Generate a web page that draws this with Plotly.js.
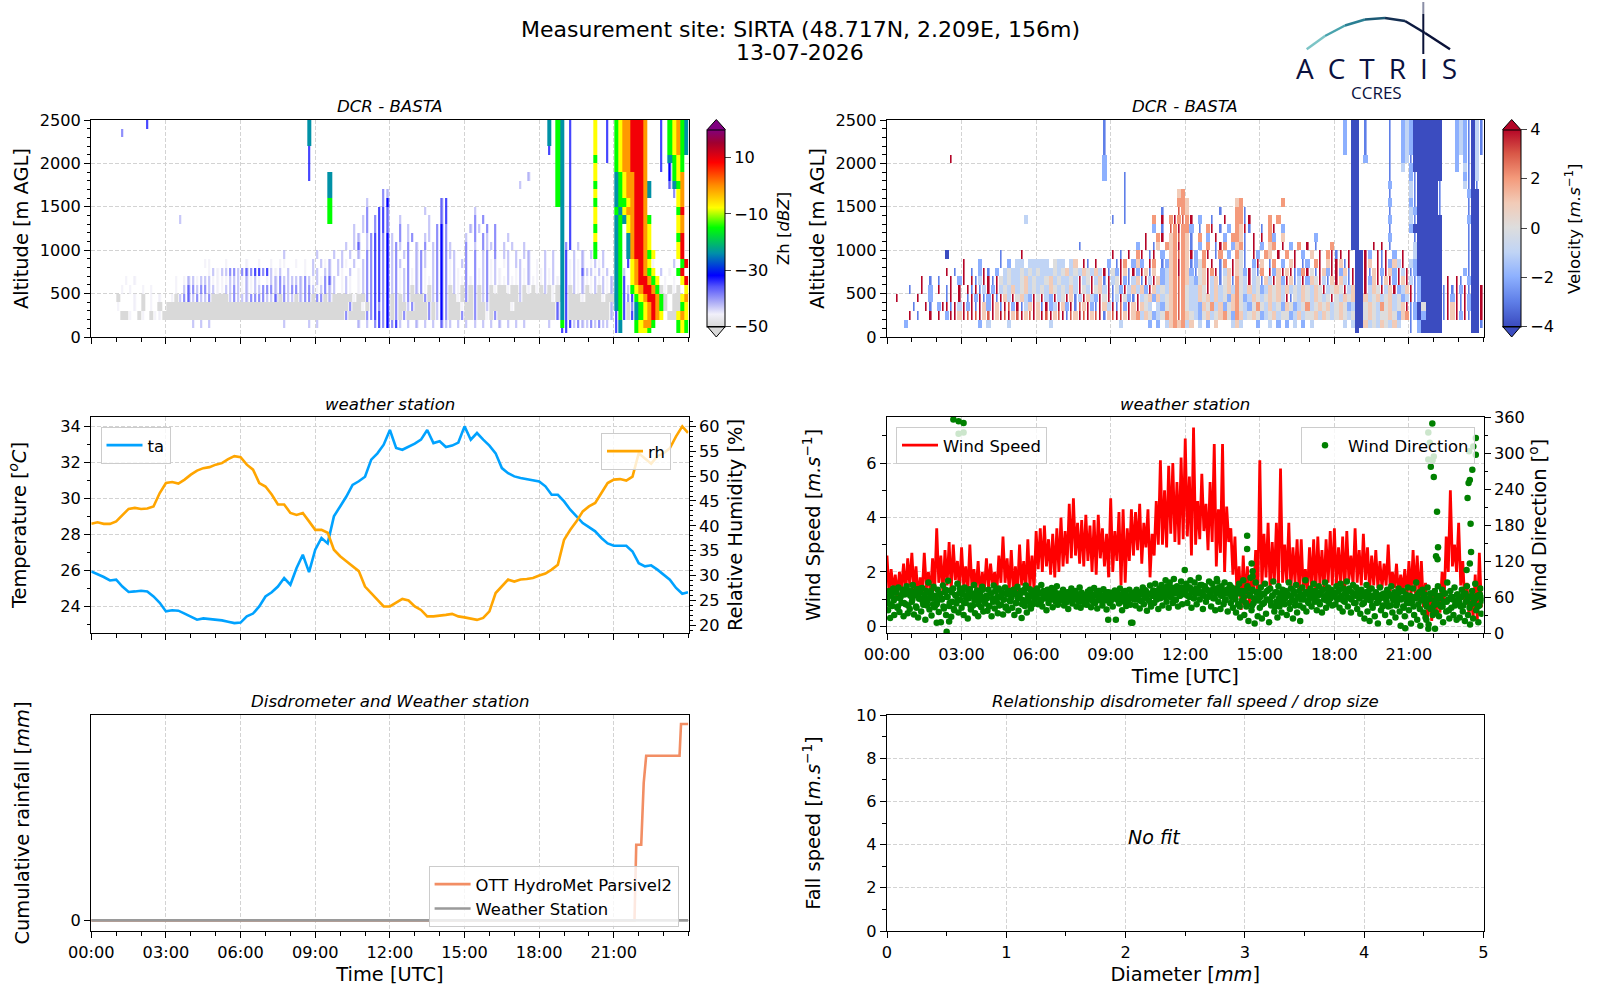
<!DOCTYPE html>
<html>
<head>
<meta charset="utf-8">
<script src="https://cdn.plot.ly/plotly-3.0.1.min.js"></script>
<style>body{margin:0;background:#fff}</style>
</head>
<body>
<div id="chart" style="width:1600px;height:1000px"></div>
<script>
// hours of the day, one tick every 3h
var timeTicks = [0,3,6,9,12,15,18,21];
var timeLabels = ['00:00','03:00','06:00','09:00','12:00','15:00','18:00','21:00'];

// radar altitude cell edges [m]
var altEdges = [50,100,200,300,400,500,600,700,800,900,1000,1100,1200,1300,1400,1500,1600,1700,1800,1900,2000,2100,2200,2300,2400,2500];

// radar rows, top to bottom, 10 min a char, 12 chars = 2h, "-" = empty 2h
var zhLevels = {g:-50,w:-46,l:-42,b:-37,d:-32,c:-24,n:-15,y:-8,o:-1,r:9};
var zhRows = [
'- .d.......... - - ....c....... - - - - ..c.nc.d.... .y..d.nyoorr ro...d.nyonc',
'.......b.... - - - ....c....... - - - - ..c.nc.d.... .y..d.nyoorr ro...d.nyonc',
'- - - - ....c....... - - - - ..c.nc.d.... .y..d.nyoorr ro...d.nyonc',
'- - - - ....d....... - - - - ..d.nc.d.... .y..d.nyoorr ro...d.nyonc',
'- - - - ....d....... - - - - ....nc.d.... .n..d.nyoorr ro...d.cnyn.',
'- - - - ....d....... - - - - ....nc.d.... .y....nyoorr ro...d.dnyn.',
'- - - - ....d....c.. - - - .........l.. ....nc.d.... .y....cnyoor ro.....dnyo.',
'- - - - .........c.. - - - .......l.... ....nc.d.... .n....cnyoor roc....bcno.',
'- - - - .........c.. ..........bl - - - ....nc.d.... .y....cnyoor roc.....byo.',
'- - - - .........n.. ......l...bd - bd.......... - ....nc.d.... .n....cnnyor ro.......yo.',
'- - - - .........n.. ......b..ddb ........l... bd......l... - .....c.d.... .y....ncyoor ro.......nr.',
'- .........l.. - - .........n.. .....lb.bddb ..l......l.. bd......b.b. - .....c.d.... .y....cncyor ron......yo.',
'- - - - - ...l.lb.bddb ..b.l....l.b db.....lbl.b .b.......... .....c.d.... .n....cn.yor roy......yo.',
'- - - - - ...ll.lbddbd l.b.lb..ll.b db....l.b.bl .b..l....... .....c.d.... .y....cn.cor roy......nr.',
'- - - - - .l.lb.lbddbd lbl.b.l.b.lb dbl...b.l.bl lb.l.l..l... .....cbd.l.. .n....cn.cor roy......yr.',
'- - - ..........l. ......l...l. l.l.l.bbddbd lb.lb.lbl.lb dbll..b.b.lb .b.ll.l.ll.. .l.l.cd.l.l. ln.l..cn.cor rony.....yr.',
'- - ...ww...w... .w..w..w.ww. .w.w.l.lwl.l lw.l.lbbddbd lbl.b.lbl.lb dbwl.lb.b.lb wl.wl.ll.l.w .l.l.cdwlwl. wlwl..cn.dyo royw....l.nr.',
'- - ....wlwllbbl bbbddbdlwl.l ...w.ll.ll.l w.l.wlbbddbd lbwlbwlbw.lb dbwlw.b.bwlb wlw.l.wlwl.w wlwl.cdwlwbl lwlwl.cnl.yo rony.l.w.nr.',
'........w.w. ........w.wl lwlllwwwwlll wlwlw.wllbll lllblwlwbbl. wlw.wlbbddbd lbwlbwlbwwlb dbwlwwbwbwlb wlwwlwwlwlww wlwlwcdwlwlw wlwlwlcnd.yo rrony.w.w.yr',
'.......w.w.. w.w.....w.lb blbbllwwllbl wlwllbbblbbl bblbblwlbll. wlw.wlbbddbd lbwlbglbwglb dbglwgbgbglb gwggwgglgwgw glgwgcdglwlg wlglwlcndlny orrongwgwg.y',
'......g...w. g.w.w..wglbb lbllbgggglbl llbbbbllbgbl lglbbgbbglgg gggwggbbddbd gbglbgggbglb dbggwgbgbglb ggggggglgggg gggwgcdgggwg gggwggcndbdn yorrong.ggyo',
'......w...w. g.w.g.gggggg gggggggggggg gggggggggggg gggggggggggg ggbggwgbdbbd gbgglbgggbgl dbgggwggbggl gggggwgggggg ggggbcdggggg ggggglcndgbc nyorong.ggny',
'.......ggw.g w.gwwggggggg gggggggggggg gggggggggggg gggggggggggg gbggggbbddbd gbgbgggggbgl dbgggbggbggw gbgggggggggg ggggbcdggggg gggggldndgdc nyoroy.ggyoy',
'- - l.l.l....... ..........l. ....l.l..... ....l.l.bdbd bdl.l.l.l.l. bll.l.l.l.l. l.l.l.l.l... ..l..nddlbll blbll.dc...n yoon.....nyn',
'- - - - - - - - - .....dd..... ......dc...n yyn......nyn'
];

var velLevels = {B:-4,b:-3,m:-2,l:-1,g:0,p:1,o:2,r:3,R:4};
var velRows = [
'- - - - ....b....... - - - - ..m.BB.b.... .b..mlmBBBBB BB...mlmbBlb',
'- - - - ....b....... - - - - ..m.BB.b.... .b..mlmBBBBB BB...mlmbBlb',
'- - - - ....b....... - - - - ..m.BB.b.... .b..mlmBBBBB BB...mlmbBlb',
'- - - - ....b....... - - - - ..m.BB.b.... .b..mlmBBBBB BB...mlmbBlb',
'- ...R........ - - ....m....... - - - - ....BB.m.... .b..mlbBBBBB BB...m.mbBl.',
'- - - - ....m....... - - - - ....BB...... .b..l.mBBBBB BB...m.lbBl.',
'- - - - ....m....b.. - - - - ....BB...... .b....mbBBBB BB.....mbBl.',
'- - - - .........b.. - - - - ....BB...... .m....lbBBBB Bb.....lbBb.',
'- - - - .........b.. ..........po - - - ....BB...... .b....lbBBBB Bb......mBB.',
'- - - - .........b.. ..........oo p........... po.........o - ....BB...... .m....mbBBBB Bb......bBB.',
'- - - - .........b.. ......b...ro p.......b... oob......... - ....BB...... .b....lmBBBB Bb......bBB.',
'- - .........l.. - ......b..b.. ....o.R.oRor oR.m..b..R.. oobR....o.o. - ....BB...... .m....lbBBBB BB......mBB.',
'- - - - - ....m.b.roRo om.b.oR.b.m. opRb..b.oR.m - ....BB...... .b....mBBBBB BB......bBB.',
'- - - - - ..R..oR.poro pb.o.m.R.m.o opb.R.R.om.p .......m.... ....BB...... .m.....bBBBB BB......bBB.',
'- - - ..........b. - m.R.bp.opoRo pb.m.o.bRo.m pob.R.m.po.R .m.o.R.b...o ....BB...R.R .b.....lBBBB BB......bBB.',
'- ..B......... ...b....R... - ......R.b.R. oR.bR.m.poro pRm.oR.bo.m. ogb.Rm.op.R. o.R.m.p.R.oR bR.R.BBRm.Rb R.m.R..lBBBB BB......bBB.',
'- ......R...m. ...b.m.ll.ll lll.gll.lp.R b.R..m.bRo.m pm.Ro.bmpoRo pbmgo.R.bo.R pgb.mRp.bo.m .pR.bm.oR.pR RpbR.BBRp.Rb RmplR.lmBBBB BB......bBB.',
'- ..R.b.R.b.mR b.m.lgllglgl glllglgplglp glplRbgmRpbR mRpbp.mlpoRo pmbgpRoRblpR pgmRlbo.RmpR pRbmoRgbRpmR RmpbRBBRbpRm RpmRlRbmBBBB BB.....mbBB.',
'........R.b. b..R.mR.RblR RbRglgllgplg llgplgllglRl gRlpbRlgRmbl pbRlRpmlporo plmgpRlpbgpb oglRlgbplRpm RpblRmpgRlbp RplbRBBRmpRb pRmRpRlbmBBB BB.R.Rb.mBB.',
'.....b..R.m. R.bR.R.RbRbl RmRlglplgplg lglpglglplRg lRgplRbgmRlp lpmRplglporo gllpgRlplgpl oglplgmlpgpl plglpglpgRlg pgRlpBBRlpgR lpRmlpRbmBBB BBbRbRmRbBBR',
'..R....R..m. ..bR.R.bRmRb mRbRplRgplmR gRlmRlgRpblR plmRgRblRgmb Rlgpmplgporo gllpgplplgmp ogmlpglgpgpl RbglpglpglgR glpgpBBplgpl gplgmlRbmBBB BBbRmRbRmBBR',
'......b..Rb. mRRbRlRmRbRp mRpbRrmRblpR pbRmlRpmRbrp RmbRplRbrmRp Rpgl.lmgporo gllmpgolpmgp oglmgoglplgm pgmlgolgpgpl gpgmlBBgpglo gplgpRbmBgBB BBbRpRbRmBBR',
'.....R.b..R. R.mRRpRrRrRp rRpRrRprRprR pRrRprRbrpRr RprRbprRrpRp olpgmlgoporo pglmgplgpogm oplgpgmlgplg gmlplggplpgl gpglgBBgpglg gpgmpobmBmBB BBbRpRmRbBBR',
'....m....... ..........m. l....l...... ...l........ ........l... ...m.m.lpopo lp.l.m.p...l pl...m..l.m. m.l.m.l..... ..l.lBBplglp glpl..b.mBBB BB.......BBb',
'- - - - - - - - - .....B...... ......b.mBBB BB.......BB.'
];

// temperature and humidity, one reading each 15 min
var taVals = [25.94,25.8,25.63,25.44,25.48,25.1,24.8,24.83,24.87,24.83,24.55,24.2,
23.72,23.78,23.76,23.6,23.44,23.26,23.33,23.3,23.28,23.22,23.15,23.07,
23.1,23.44,23.6,24,24.55,24.78,25.1,25.57,25.2,26.13,26.87,25.9,
27.15,27.8,27.5,29,29.55,30.1,30.75,30.95,31.2,32.15,32.5,32.98,
33.8,32.8,32.7,32.85,33.04,33.26,33.8,33.07,33.17,32.85,32.93,33.1,
34,33.26,33.63,33.26,32.93,32.5,31.68,31.4,31.22,31.13,31.07,31,
30.94,30.67,30.2,30.2,29.83,29.37,29,28.63,28.4,28.17,27.8,27.5,
27.37,27.39,27.37,27.05,26.4,26.22,26.28,26.04,25.76,25.48,25.02,24.7,24.78];
var rhVals = [40.4,40.7,40.4,40.4,40.9,42.2,43.4,43.6,43.4,43.5,43.9,46.6,
48.6,48.8,48.5,49.3,50.3,51.1,51.6,51.8,52.3,52.6,53.4,54,
53.8,52.3,51.3,48.6,47.9,46.3,44.3,44.3,42.6,42.2,42.6,40.9,
39.2,39.2,38.6,35.2,33.9,32.9,31.9,30.9,27.8,26.5,25.2,23.8,
23.8,24.5,25.3,25,23.8,23.1,21.8,21.8,21.9,22.1,22.3,21.8,
21.6,21.3,21.1,21.5,22.8,26.5,27.8,29.2,28.8,29.2,29.3,29.5,
30,30.4,31.2,32.2,37.2,39.2,40.9,42.9,43.9,44.6,46.6,48.6,
49.3,49.4,49.1,49.9,54.6,53.6,52.5,54,54.6,55.6,58,60,58.7];

// wind speed, 5 min step, one line per hour
var windSpeed = [
2.6,1.2,2.1,1.3,1.9,1.1,2.0,1.4,2.3,1.2,2.5,1.5,
2.7,1.3,2.2,1.0,1.8,1.2,2.7,1.4,2.0,1.1,2.5,1.3,
3.6,1.6,2.6,1.2,2.8,1.5,3.1,1.3,3.0,1.7,2.4,1.3,
2.9,1.5,2.2,1.2,3.0,1.4,2.1,1.3,2.4,1.1,2.0,1.3,
2.5,1.4,2.3,1.5,2.0,1.2,2.6,1.6,3.3,1.6,2.5,1.3,
2.8,1.3,2.2,1.2,3.0,1.5,2.4,1.3,3.2,1.4,2.6,1.3,
3.5,2.1,3.6,2.0,3.7,2.2,3.2,1.9,3.4,1.8,3.6,2.0,
4.0,2.2,3.5,2.3,4.5,2.5,4.7,2.6,3.8,2.3,3.9,2.2,
4.1,2.4,3.7,2.0,3.9,1.9,4.1,2.5,3.6,2.2,3.4,1.8,
4.7,2.0,3.5,2.4,4.2,1.5,4.3,1.6,3.6,2.4,4.3,2.6,
4.2,2.8,4.5,2.3,3.8,2.9,4.3,1.8,3.4,2.6,4.6,3.0,
6.1,3.0,5.0,2.9,5.9,3.4,6.0,3.1,5.3,3.0,6.2,3.2,
6.9,3.3,5.5,2.6,7.3,3.0,4.6,3.2,5.6,3.5,4.5,2.8,
5.3,3.1,6.7,2.2,4.3,2.7,6.7,2.0,4.4,3.1,3.6,1.9,
3.3,1.1,2.2,0.6,2.6,0.9,2.2,0.7,1.9,1.2,2.8,1.0,
6.1,1.4,3.4,1.8,3.8,1.3,3.1,1.6,3.8,1.4,5.8,1.6,
3.0,1.6,3.8,1.3,2.9,1.6,3.2,1.2,3.2,1.3,2.1,1.2,
2.9,1.4,3.2,1.2,3.3,1.5,2.8,1.3,3.2,1.6,3.5,1.5,
3.6,1.4,2.9,1.6,3.3,1.2,3.5,1.7,2.6,1.5,3.6,1.6,
2.8,1.5,3.4,1.7,2.9,1.3,2.6,1.5,2.8,1.4,2.4,1.4,
2.3,1.5,3.0,1.3,2.0,1.4,2.3,1.1,1.9,1.3,2.1,1.0,
2.4,1.1,2.8,1.2,2.6,0.9,2.4,0.7,1.6,0.3,1.2,0.2,
1.4,0.4,1.2,0.5,2.0,0.9,3.3,2.0,5.0,2.2,3.0,2.0,
3.8,1.5,2.4,0.8,1.6,0.4,1.2,0.3,1.9,0.2,2.7,0.7];

// wind direction, 2.5 min step, one line per hour
var windDir = [
55,38,70,25,62,45,74,30,58,68,42,76,35,60,50,72,28,64,48,78,33,66,40,71,
52,80,31,63,44,73,26,57,68,36,75,47,61,22,70,53,84,39,66,29,58,77,43,60,
48,72,35,64,18,56,79,41,68,30,60,87,45,71,27,52,74,38,63,49,82,34,67,55,
42,69,30,76,50,62,24,58,73,39,66,46,80,33,60,71,28,54,65,43,77,36,59,49,
62,37,72,45,66,28,57,79,41,69,52,33,74,60,47,68,31,56,76,44,64,38,70,53,
58,42,72,30,65,50,77,37,61,70,25,55,68,45,79,34,63,52,73,41,66,48,59,71,
62,74,48,67,55,80,44,70,58,63,38,72,50,66,56,75,43,61,69,52,78,47,64,58,
54,66,72,46,60,51,68,40,63,57,74,49,65,58,70,44,61,53,76,42,67,55,62,48,
60,47,69,56,72,43,64,52,75,50,66,41,59,70,54,63,46,73,57,65,39,61,68,50,
53,67,44,62,71,22,56,64,49,74,58,38,66,52,70,45,61,55,72,47,63,17,59,68,
46,72,56,63,41,68,53,76,48,60,70,37,65,54,79,44,62,71,50,82,58,66,40,74,
58,80,46,72,64,88,52,70,42,84,60,76,50,90,66,55,78,44,72,62,86,48,68,74,
64,82,50,76,60,88,42,70,58,84,66,48,74,92,56,68,80,40,62,78,52,72,60,86,
70,44,82,58,74,38,66,86,52,70,40,78,62,48,84,56,72,36,66,80,50,76,42,60,
60,34,74,48,82,26,66,54,88,30,70,44,78,20,62,92,38,72,50,16,84,58,28,68,
42,76,24,64,50,82,32,70,56,18,74,46,62,86,36,68,52,26,78,44,64,34,72,56,
48,70,30,62,84,40,74,54,24,66,46,80,34,60,70,20,56,76,42,64,88,36,68,50,
58,74,44,66,82,52,70,38,62,78,48,68,34,72,56,84,42,64,76,50,60,72,46,68,
64,48,78,56,70,42,82,60,36,74,52,66,86,44,72,58,34,68,80,50,62,76,40,70,
58,32,72,48,66,24,60,80,36,70,20,54,74,42,62,28,68,50,16,58,76,38,64,46,
66,30,56,72,44,18,62,78,34,54,68,26,46,60,74,36,12,58,70,42,28,64,50,76,
38,62,16,52,74,30,60,84,22,48,68,12,56,72,34,64,26,44,76,14,58,40,66,30,
46,70,34,58,78,28,62,44,72,18,52,66,36,84,56,24,70,42,60,30,76,50,22,64,
58,26,44,72,36,64,20,52,78,30,60,14,48,70,24,56,82,38,62,18,46,74,32,58];
// second batch of readings in between, 5 min step, close to the band centre
var windDir2 = [
60,48,66,54,70,44,58,64,50,72,46,62,
56,68,42,60,74,52,64,46,58,70,48,62,
52,66,58,44,72,60,50,68,40,62,56,74,
64,50,58,70,46,62,54,68,48,60,72,52,
58,44,66,52,70,60,46,64,56,42,68,54,
62,70,50,58,66,48,72,54,60,44,64,56,
60,66,52,64,58,70,56,62,68,54,60,66,
58,64,60,54,68,62,56,66,60,52,64,58,
62,56,66,60,52,64,70,58,62,54,68,60,
56,64,60,68,52,62,58,66,54,60,64,56,
60,68,54,64,72,58,66,50,62,70,56,64,
66,72,60,78,64,70,56,74,68,62,76,66,
70,62,76,68,58,74,66,80,64,72,60,70,
64,72,58,68,76,62,70,54,66,74,60,68,
56,66,44,70,60,50,74,64,46,58,68,54,
60,48,66,56,72,52,62,44,68,58,50,64,
58,66,50,62,70,54,60,46,64,56,68,52,
62,70,58,66,52,64,72,60,54,68,58,62,
66,58,72,62,54,68,60,74,56,64,50,66,
58,64,50,68,56,62,46,60,66,52,58,44,
60,52,66,46,58,62,50,68,56,44,60,54,
50,60,44,58,64,40,54,62,48,56,66,42,
54,62,48,58,44,66,52,38,60,56,46,64,
52,60,46,66,56,42,62,50,58,44,64,54];
// the scattered readings outside the main band
var dirExtraTimes = [2.67,2.88,3.08,3.08,2.88,2.4,2,2.5,20.85,21.78,22.05,21.94,21.78,21.84,22,21.78,21.95,21.88,22,22.13,22.17,22.09,22.15,23.69,23.59,23.42,23.69,23.55,23.45,23.4,23.36,23.48,23.5,23.45,23.32,14.49,14.49,14.67,14.71,14.71,11.98,13.27,8.9,9.82,21.7];
var dirExtraVals = [356,353,350,334,332,2,17,19,8,7,7,349,334,317,294,289,288,277,260,202,143,128,123,325,311,303,297,272,255,250,225,182,135,116,105,162,140,116,103,94,105,90,22,17,22];

// cumulative rain
var rainTimes = [0,21.83,21.9,22.1,22.2,22.3,23.64,23.7,23.99];
var rainParsivel = [0,0,0.5,0.5,0.91,1.09,1.09,1.3,1.3];
var rainStationTimes = [0,23.99];
var rainStation = [0,0];

var timeEdges = [];
for (var i = 0; i <= 144; i++) timeEdges.push(i / 6);
var time15 = taVals.map(function (v, i) { return Math.min(i * 0.25, 23.98); });
var time5 = windSpeed.map(function (v, i) { return i / 12; });
var time25 = windDir.map(function (v, i) { return i / 24; });
var time5b = windDir2.map(function (v, i) { return i / 12 + 1 / 48; });

// only the chars in "keep" are returned, everything else is left empty
function decodeRows(rows, levels, keep) {
    // file is top to bottom, the y axis wants bottom to top
    return rows.slice().reverse().map(function (row) {
        var chars = row.split(' ').map(function (g) { return g === '-' ? '............' : g; }).join('');
        var out = [];
        for (var c = 0; c < 144; c++) {
            var v = keep.indexOf(chars[c]) >= 0 ? levels[chars[c]] : undefined;
            out.push(v === undefined ? null : v);
        }
        return out;
    });
}

function px(x) { return x / 1600; }
function py(y) { return 1 - y / 1000; }
function pathPx(pts) {
    return pts.map(function (p, i) { return (i ? 'L' : 'M') + px(p[0]) + ',' + py(p[1]); }).join(' ');
}

var FONT = 'DejaVu Sans';
var TICK = 16.2, LABEL = 19.4;
var L0 = 91.3, L1 = 688.5, R0 = 887, R1 = 1483.5;
var rows = [[120, 337], [417, 633], [715, 931]];

var zhScale = [[0,'#d9d9d9'],[0.06,'#f1f0fa'],[0.114,'#b4b4f6'],[0.2,'#5555fb'],[0.257,'#0000ff'],[0.37,'#0090a8'],[0.5,'#00ff00'],[0.6,'#ffff00'],[0.714,'#ff8c00'],[0.83,'#ff0000'],[0.93,'#a00030'],[1,'#800080']];
var velScale = [[0,'#3b4cc0'],[0.125,'#5f7fe8'],[0.25,'#8db0fe'],[0.375,'#c0d4f5'],[0.5,'#dddddd'],[0.625,'#f2cbb7'],[0.75,'#f49a7b'],[0.875,'#d95847'],[1,'#b40426']];

function baseAxis(extra) {
    var a = {showline:true, mirror:true, linecolor:'#000', linewidth:1.3, ticks:'outside', ticklen:6, tickwidth:1.1,
        tickcolor:'#000', zeroline:false, showgrid:true, gridcolor:'#d3d3d3', griddash:'4px,2px', gridwidth:1,
        tickfont:{family:FONT, size:TICK, color:'#000'}};
    for (var k in extra) a[k] = extra[k];
    return a;
}
function timeAxis(x0, x1, anchor, labels) {
    var a = baseAxis({domain:[px(x0), px(x1)], anchor:anchor, range:[0,24], tickmode:'array', tickvals:timeTicks, ticktext:timeLabels,
        showticklabels:labels, minor:{ticks:'outside', ticklen:3.5, tickmode:'linear', tick0:0, dtick:1, showgrid:false}});
    if (labels) a.title = {text:'Time [UTC]', font:{family:FONT, size:LABEL, color:'#000'}, standoff:6};
    return a;
}
function yAxisTitle(txt, gap) { return {text:txt, font:{family:FONT, size:LABEL, color:'#000'}, standoff:gap}; }
function minor(d) { return {ticks:'outside', ticklen:3.5, dtick:d, showgrid:false}; }
function colorbarAt(x, vals, labels) {
    return {x:px(x), xanchor:'left', y:py(326.5), yanchor:'bottom', len:197, lenmode:'pixels', thickness:18, thicknessmode:'pixels',
        xpad:0, ypad:0, outlinewidth:1, outlinecolor:'#000', ticks:'outside', ticklen:6, tickvals:vals, ticktext:labels,
        tickfont:{family:FONT, size:TICK, color:'#000'}};
}
// radar: solid cells below, thin streaks above
function radarTraces(rowsIn, levels, solid, thin, xa, ya, zmin, zmax, scale, cbar) {
    return [
        {type:'heatmap', x:timeEdges, y:altEdges, z:decodeRows(rowsIn, levels, solid), xaxis:xa, yaxis:ya, zmin:zmin, zmax:zmax,
         colorscale:scale, hoverongaps:false, hoverinfo:'skip', colorbar:cbar},
        {type:'heatmap', x:timeEdges, y:altEdges, z:decodeRows(rowsIn, levels, thin), xaxis:xa, yaxis:ya, zmin:zmin, zmax:zmax,
         colorscale:scale, hoverongaps:false, hoverinfo:'skip', showscale:false, xgap:2.4}
    ];
}

var traces = radarTraces(zhRows, zhLevels, 'gcnyor', 'wlbd', 'x', 'y', -50, 20, zhScale,
        colorbarAt(707.3, [-50,-30,-10,10], ['\u221250','\u221230','\u221210','10']))
    .concat(radarTraces(velRows, velLevels, 'glpomB', 'bRr', 'x2', 'y2', -4, 4, velScale,
        colorbarAt(1502.7, [-4,-2,0,2,4], ['\u22124','\u22122','0','2','4'])))
    .concat([
    {type:'scatter', mode:'lines', name:'ta', x:time15, y:taVals, xaxis:'x3', yaxis:'y3', line:{color:'#00a2ff', width:2.6}, legend:'legend'},
    {type:'scatter', mode:'lines', name:'rh', x:time15, y:rhVals, xaxis:'x3', yaxis:'y7', line:{color:'#ffa500', width:2.6}, legend:'legend2'},
    {type:'scatter', mode:'lines', name:'Wind Speed', x:time5, y:windSpeed, xaxis:'x4', yaxis:'y4', line:{color:'#ff0000', width:2.8}, legend:'legend3'},
    {type:'scatter', mode:'markers', name:'Wind Direction', x:time25.concat(time5b, dirExtraTimes), y:windDir.concat(windDir2, dirExtraVals), xaxis:'x4', yaxis:'y8', marker:{color:'#008000', size:6.5}, legend:'legend4'},
    {type:'scatter', mode:'lines', name:'OTT HydroMet Parsivel2', x:rainTimes, y:rainParsivel, xaxis:'x5', yaxis:'y5', line:{color:'#f28e64', width:2.6}, legend:'legend5'},
    {type:'scatter', mode:'lines', name:'Weather Station', x:rainStationTimes, y:rainStation, xaxis:'x5', yaxis:'y5', line:{color:'#9a9a9a', width:2.6}, legend:'legend5'},
    {type:'scatter', x:[], y:[], xaxis:'x6', yaxis:'y6', showlegend:false}
]);

function legendAt(x, y, anchor) {
    return {x:px(x), y:py(y), xanchor:anchor || 'left', yanchor:'top', bgcolor:'rgba(255,255,255,0.8)', bordercolor:'#ccc', borderwidth:1,
        font:{family:FONT, size:16.4, color:'#000'}, itemwidth:36, itemclick:false};
}
function note(txt, x, y, font, extra) {
    var a = {text:txt, xref:'paper', yref:'paper', x:px(x), y:py(y), showarrow:false, xanchor:'center', yanchor:'middle', font:font};
    for (var k in extra) a[k] = extra[k];
    return a;
}
function subTitle(txt, x, y) {
    return note(txt, x, y, {family:FONT, size:16.6, color:'#000', style:'italic'});
}

var logoArc = [[1306.7,49.3],[1325,36],[1345,25.5],[1365,19.5],[1385,18],[1405,21],[1425,33],[1450,49.3]];
var logoColors = ['#7cc4c6','#49a3ad','#2a7f93','#1c5a75','#142f52','#0c1a40','#0a1238'];
var shapes = logoColors.map(function (c, i) {
    return {type:'path', xref:'paper', yref:'paper', path:pathPx([logoArc[i], logoArc[i + 1]]), line:{color:c, width:2.5}};
});
shapes.push({type:'path', xref:'paper', yref:'paper', path:pathPx([[1423.3,2],[1423.3,14]]), line:{color:'#8a8ea6', width:2}});
shapes.push({type:'path', xref:'paper', yref:'paper', path:pathPx([[1423.3,14],[1423.3,54]]), line:{color:'#0a1238', width:2}});
// colorbar end arrows
[[707.3,725.3,'#800080','#d9d9d9'],[1502.7,1520.7,'#b40426','#3b4cc0']].forEach(function (b) {
    shapes.push({type:'path', xref:'paper', yref:'paper', fillcolor:b[2], line:{color:'#000', width:1},
        path:pathPx([[b[0],129.5],[(b[0] + b[1]) / 2,119.5],[b[1],129.5]]) + ' Z'});
    shapes.push({type:'path', xref:'paper', yref:'paper', fillcolor:b[3], line:{color:'#000', width:1},
        path:pathPx([[b[0],326.5],[(b[0] + b[1]) / 2,337],[b[1],326.5]]) + ' Z'});
});

var layout = {
    width:1600, height:1000, margin:{l:0, r:0, t:0, b:0}, paper_bgcolor:'#fff', plot_bgcolor:'#fff', showlegend:true,
    font:{family:FONT, color:'#000'},
    xaxis:timeAxis(L0, L1, 'y', false),
    xaxis2:timeAxis(R0, R1, 'y2', false),
    xaxis3:timeAxis(L0, L1, 'y3', false),
    xaxis4:timeAxis(R0, R1, 'y4', true),
    xaxis5:timeAxis(L0, L1, 'y5', true),
    xaxis6:baseAxis({domain:[px(R0), px(R1)], anchor:'y6', range:[0,5], dtick:1, minor:minor(0.5), title:{text:'Diameter [<i>mm</i>]', font:{family:FONT, size:LABEL, color:'#000'}, standoff:6}}),
    yaxis:baseAxis({domain:[py(rows[0][1]), py(rows[0][0])], anchor:'x', range:[0,2500], dtick:500, minor:minor(100), title:yAxisTitle('Altitude [m AGL]', 5)}),
    yaxis2:baseAxis({domain:[py(rows[0][1]), py(rows[0][0])], anchor:'x2', range:[0,2500], dtick:500, minor:minor(100), title:yAxisTitle('Altitude [m AGL]', 5)}),
    yaxis3:baseAxis({domain:[py(rows[1][1]), py(rows[1][0])], anchor:'x3', range:[22.52,34.52], dtick:2, minor:minor(1), title:yAxisTitle('Temperature [<i><sup>o</sup>C</i>]', 28)}),
    yaxis4:baseAxis({domain:[py(rows[1][1]), py(rows[1][0])], anchor:'x4', range:[-0.245,7.69], dtick:2, minor:minor(1), title:yAxisTitle('Wind Speed [<i>m.s</i><sup>\u22121</sup>]', 40)}),
    yaxis5:baseAxis({domain:[py(rows[2][1]), py(rows[2][0])], anchor:'x5', range:[-0.0706,1.3596], tickmode:'array', tickvals:[0], ticktext:['0'], title:yAxisTitle('Cumulative rainfall [<i>mm</i>]', 35)}),
    yaxis6:baseAxis({domain:[py(rows[2][1]), py(rows[2][0])], anchor:'x6', range:[0,10], dtick:2, minor:minor(1), title:yAxisTitle('Fall speed [<i>m.s</i><sup>\u22121</sup>]', 30)}),
    yaxis7:baseAxis({overlaying:'y3', side:'right', anchor:'x3', range:[18.46,61.88], dtick:5, minor:minor(1), showgrid:false, mirror:false, title:yAxisTitle('Relative Humidity [%]', 9)}),
    yaxis8:baseAxis({overlaying:'y4', side:'right', anchor:'x4', range:[0,360], dtick:60, minor:minor(30), showgrid:false, mirror:false, title:yAxisTitle('Wind Direction [<sup>o</sup>]', 8)}),
    legend:legendAt(100.5, 427),
    legend2:legendAt(671, 433, 'right'),
    legend3:legendAt(896, 427),
    legend4:legendAt(1475, 427, 'right'),
    legend5:legendAt(678.6, 866, 'right'),
    shapes:shapes,
    annotations:[
        note('Measurement site: SIRTA (48.717N, 2.209E, 156m)', 800, 29, {family:FONT, size:22, color:'#000'}),
        note('13-07-2026', 800, 52, {family:FONT, size:22, color:'#000'}),
        subTitle('DCR - BASTA', 390, 107),
        subTitle('DCR - BASTA', 1185, 107),
        subTitle('weather station', 390, 404),
        subTitle('weather station', 1185, 404),
        subTitle('Disdrometer and Weather station', 390, 701),
        subTitle('Relationship disdrometer fall speed / drop size', 1185, 701),
        note('Zh [<i>dBZ</i>]', 783.7, 228.5, {family:FONT, size:16.6, color:'#000'}, {textangle:-90}),
        note('Velocity [<i>m.s</i><sup>\u22121</sup>]', 1572.5, 228.5, {family:FONT, size:16.6, color:'#000'}, {textangle:-90}),
        {text:'No fit', xref:'x6', yref:'y6', x:2, y:4, showarrow:false, xanchor:'left', yanchor:'bottom', yshift:-5, font:{family:FONT, size:19, color:'#000', style:'italic'}},
        note('A\u2002C\u2002T\u2002R\u2002I\u2002S', 1376, 67.5, {family:'Open Sans', size:28, color:'#0b1240'}),
        note('CCRES', 1376.7, 92.5, {family:'Open Sans', size:17, color:'#0b1240'})
    ]
};

Plotly.newPlot('chart', traces, layout, {displayModeBar:false});
</script>
</body>
</html>
